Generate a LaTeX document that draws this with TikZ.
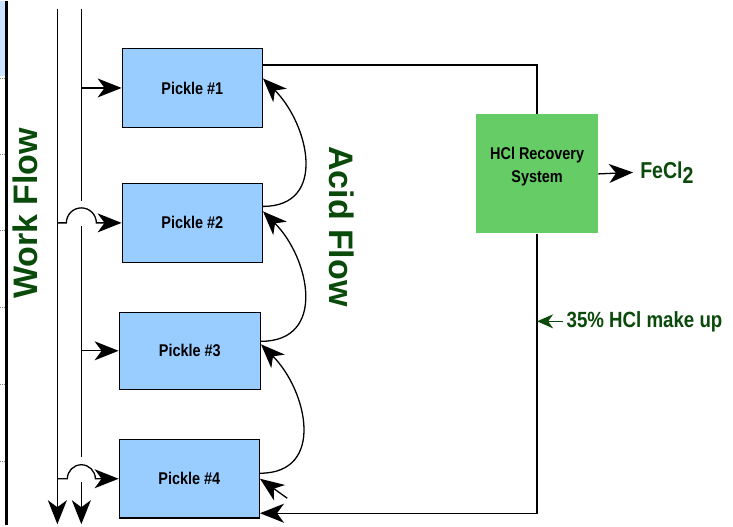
\documentclass[tikz,border=0pt]{standalone}
\usepackage{fontspec}
\setmainfont{Liberation Sans}
\newfontfamily\narrowfont[FakeStretch=0.85]{Liberation Sans}
\usetikzlibrary{arrows.meta}

\definecolor{pickleblue}{HTML}{99CCFF}
\definecolor{hclgreen}{HTML}{66CC66}
\definecolor{flowgreen}{HTML}{0A4A0A}
\definecolor{stripblue}{HTML}{CCE4FF}

\begin{document}
\begin{tikzpicture}[x=1pt, y=-1pt,
  pickle/.style={draw, line width=1.5pt, fill=pickleblue, minimum width=140pt,
    minimum height=79pt, font=\narrowfont\fontsize{17}{20}\selectfont\bfseries},
  hclbox/.style={fill=hclgreen, minimum width=122pt, minimum height=119pt,
    align=center, font=\narrowfont\fontsize{17}{23}\selectfont\bfseries},
  flowtxt/.style={text=flowgreen, font=\fontsize{34}{40}\selectfont\bfseries},
  sidetxt/.style={text=flowgreen, anchor=west, font=\narrowfont\fontsize{22}{24}\selectfont\bfseries},
  pipe/.style={line width=1.3pt},
  feed/.style={pipe, -{Stealth[length=24pt,width=19pt,inset=7pt]}},
  mkarrow/.style={pipe, draw=flowgreen, -{Stealth[length=16pt,width=14pt,inset=5pt]}}]
  \path[fill=white] (0,0) rectangle (733,524);

  % Edge of the page
  \fill[stripblue] (0,0) rectangle (5,75);
  \draw[line width=3pt] (6.5,0) -- (6.5,524);
  \foreach \ty in {77,153,229,306,383,460}
    \draw[densely dotted, gray, line width=0.8pt] (0,\ty) -- (5,\ty);

  % Coordinates
  \coordinate (wa) at (57,8);
  \coordinate (wb) at (81,8);
  \coordinate (wa end) at (57,523);
  \coordinate (wb end) at (81,523);
  \coordinate (gap1 a) at (81,200);
  \coordinate (gap1 b) at (81,225);
  \coordinate (gap2 a) at (81,456);
  \coordinate (gap2 b) at (81,481);
  \coordinate (drip) at (287,497);

  % Nodes
  \node[pickle] (p1) at (192,86.5) {Pickle \#1};
  \node[pickle] (p2) at (192,221.5) {Pickle \#2};
  \node[pickle, minimum width=141pt, minimum height=77pt] (p3) at (189.5,349.5) {Pickle \#3};
  \node[pickle] (p4) at (189,477.5) {Pickle \#4};
  \node[hclbox] (hcl) at (537,172.5) {HCl Recovery\\System\\[-4pt]};
  \node[sidetxt, inner xsep=7pt, font=\narrowfont\fontsize{23}{24}\selectfont\bfseries] (fecl) at (633,171)
    {FeCl\raisebox{-5pt}{2}};
  \node[sidetxt] (makeup) at (563,320) {35\% HCl make up};
  \coordinate (mk) at (hcl.south |- makeup.west);
  \node[flowtxt, rotate=90] (work) at (25,212) {Work Flow};
  \node[flowtxt, rotate=-90] (acid) at (341,225) {Acid Flow};

  % Work flow
  \draw[feed] (wa) -- (wa end);
  \draw[pipe] (wb) -- (gap1 a);
  \draw[pipe] (gap1 b) -- (gap2 a);
  \draw[feed] (gap2 b) -- (wb end);
  \draw[feed] (p1.west -| wb) -- (p1.west);
  \draw[feed] (p2.west -| wa) -- (66,221.5) arc[start angle=180, end angle=360, radius=15] -- (p2.west);
  \draw[feed] (p3.west -| wb) -- (p3.west);
  \draw[feed] (p4.west -| wa) -- (67,477.5) arc[start angle=180, end angle=360, radius=14] -- (p4.west);

  % Acid flow
  \draw[feed] ([yshift=16.5pt]p2.east) to[out=0, in=-45, looseness=1.3] ([yshift=9.5pt]p1.east);
  \draw[feed] ([yshift=9.5pt]p3.east) to[out=0, in=-45, looseness=1.3] ([yshift=11.5pt]p2.east);
  \draw[feed] ([yshift=5.5pt]p4.east) to[out=0, in=-45, looseness=1.3] ([yshift=6.5pt]p3.east);
  \draw[feed] (drip) -- (p4.east);
  \draw[pipe] ([yshift=23pt]p1.east) -| (hcl.north);
  \draw[feed] (hcl.south) |- ([yshift=-34.5pt]p4.east);
  \draw[feed] (hcl.east) -- (fecl.west);
  \draw[mkarrow] (makeup.west) -- (mk);
\end{tikzpicture}
\end{document}
